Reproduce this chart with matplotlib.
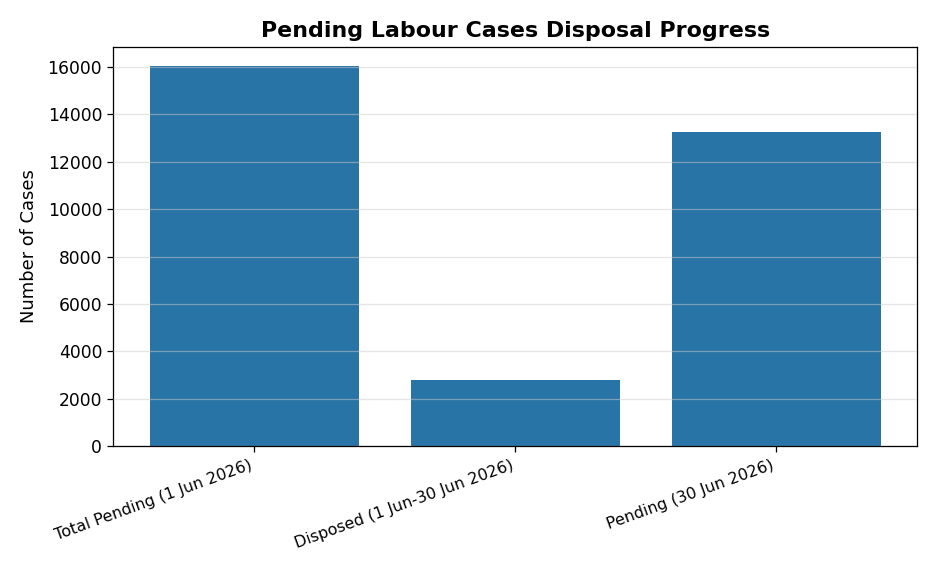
import matplotlib
matplotlib.use("Agg")
import matplotlib.pyplot as plt

categories = ["Total Pending (1 Jun 2026)", "Disposed (1 Jun-30 Jun 2026)", "Pending (30 Jun 2026)"]
case_counts = [16050, 2790, 13260]

fig, ax = plt.subplots(figsize=(936 / 114, 572 / 114), dpi=114)
ax.bar(categories, case_counts, color="#2874a6", zorder=2)
ax.grid(axis="y", color="#cccccc", alpha=0.5, zorder=3)
ax.set_axisbelow(False)
ax.set_ylabel("Number of Cases", fontsize=11.3, labelpad=6)
ax.set_title("Pending Labour Cases Disposal Progress", fontsize=14, fontweight="bold")
ax.set_ylim(0, 16850)
plt.xticks(rotation=20, ha="right")
ax.tick_params(axis="x", labelsize=10)
ax.tick_params(axis="y", labelsize=10.8)
fig.subplots_adjust(left=0.121, right=0.98, top=0.918, bottom=0.22)
fig.savefig("out.png", dpi=114)
